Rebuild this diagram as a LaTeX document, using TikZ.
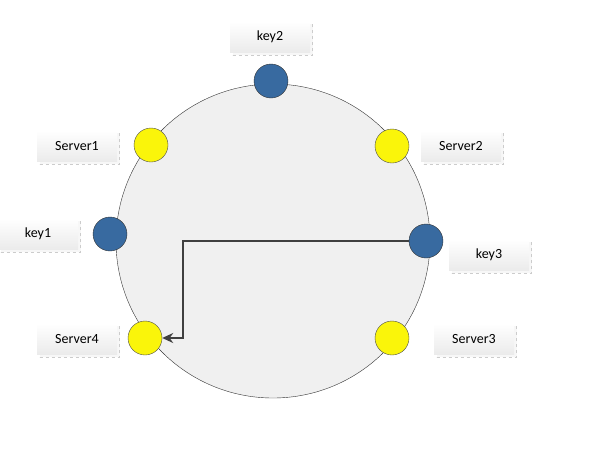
\documentclass[tikz,border=0pt]{standalone}
\usepackage{fontspec}
\setmainfont{Carlito}
\usetikzlibrary{shadows,arrows.meta}
\definecolor{keyblue}{RGB}{56,106,160}
\definecolor{srvyellow}{RGB}{250,245,10}

\begin{document}
\begin{tikzpicture}[
      x=1pt,y=-1pt,
      ring/.style={circle,draw=black!80,fill=black!6,minimum size=314pt,inner sep=0pt},
      server/.style={circle,draw=black!70,fill=srvyellow,minimum size=34pt,inner sep=0pt},
      keynode/.style={circle,draw=black!80,fill=keyblue,minimum size=34pt,inner sep=0pt},
      tag/.style={rectangle,top color=white,bottom color=black!8,minimum width=80pt,minimum height=31pt,
        font=\fontsize{14}{16}\selectfont,
        general shadow={shadow xshift=2.5pt,shadow yshift=-2.5pt,draw=black!20,dashed,fill=black!3}},
      pointer/.style={line width=1.8pt,draw=black!75,-{Stealth[length=11pt,width=10pt]}}
      ]
      \useasboundingbox (0,0) rectangle (597,461);
      \node[ring] (ring) at (273,241) {};
      % points on the ring
      \node[keynode] (key2) at (271,81) {};
      \node[server] (srv1) at (151,145) {};
      \node[server] (srv2) at (392,146) {};
      \node[keynode] (key1) at (110,234) {};
      \node[keynode] (key3) at (426,241) {};
      \node[server] (srv4) at (145,338) {};
      \node[server] (srv3) at (392,338) {};
      % labels
      \node[tag] (key2lbl) at (270,37) {key2};
      \node[tag] (srv1lbl) at (77,146) {Server1};
      \node[tag] (srv2lbl) at (461,146) {Server2};
      \node[tag] (key1lbl) at (38,234) {key1};
      \node[tag] (key3lbl) at (489,255) {key3};
      \node[tag] (srv4lbl) at (77,339) {Server4};
      \node[tag] (srv3lbl) at (474,339) {Server3};
      \coordinate (bend) at (183,241);
      \draw[pointer] (key3.west) -- (bend) |- (srv4.east);
    \end{tikzpicture}
\end{document}
